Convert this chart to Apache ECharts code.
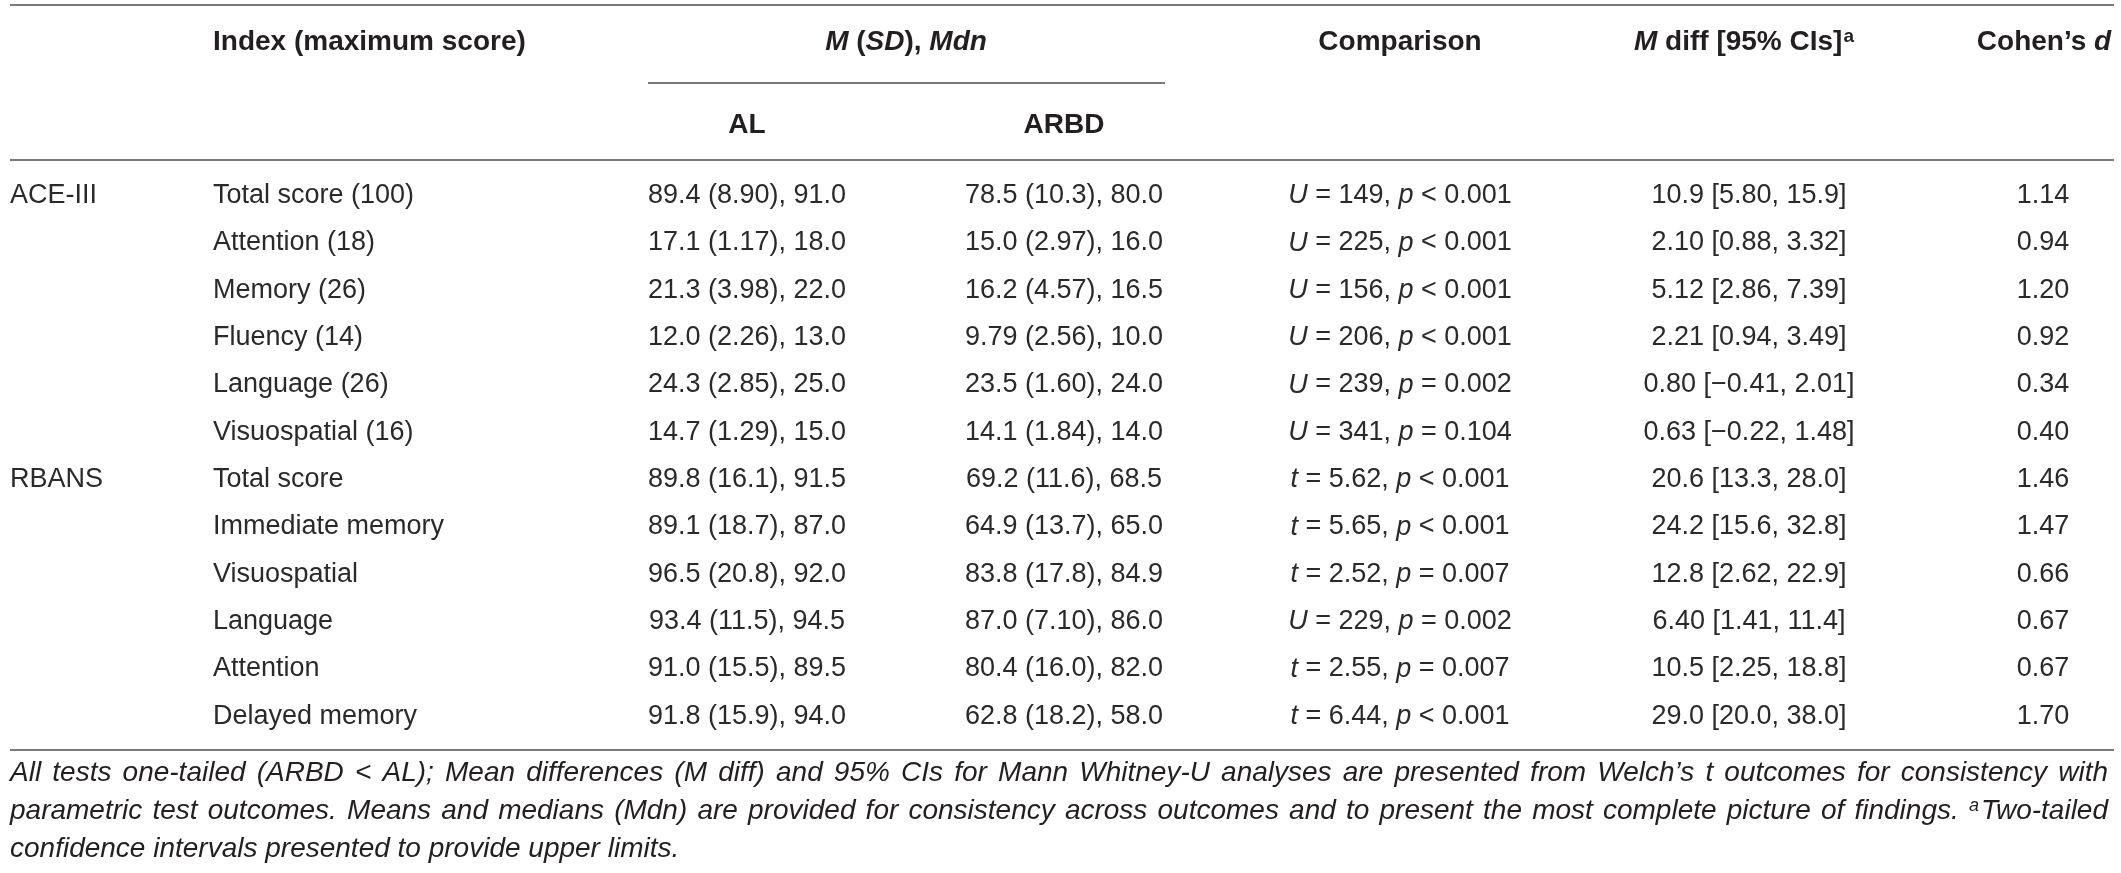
<!DOCTYPE html>
<html>
<head>
<meta charset="utf-8">
<script src="https://cdn.jsdelivr.net/npm/echarts@6/dist/echarts.min.js"></script>
<style>
html, body { margin: 0; padding: 0; background: #fff; }
#main { width: 2121px; height: 873px; }
</style>
</head>
<body>
<div id="main"></div>
<script>
// table values
var groups = ['ACE-III', '', '', '', '', '', 'RBANS', '', '', '', '', ''];
var indexNames = ['Total score (100)', 'Attention (18)', 'Memory (26)', 'Fluency (14)', 'Language (26)', 'Visuospatial (16)',
	'Total score', 'Immediate memory', 'Visuospatial', 'Language', 'Attention', 'Delayed memory'];
var alValues = ['89.4 (8.90), 91.0', '17.1 (1.17), 18.0', '21.3 (3.98), 22.0', '12.0 (2.26), 13.0', '24.3 (2.85), 25.0', '14.7 (1.29), 15.0',
	'89.8 (16.1), 91.5', '89.1 (18.7), 87.0', '96.5 (20.8), 92.0', '93.4 (11.5), 94.5', '91.0 (15.5), 89.5', '91.8 (15.9), 94.0'];
var arbdValues = ['78.5 (10.3), 80.0', '15.0 (2.97), 16.0', '16.2 (4.57), 16.5', '9.79 (2.56), 10.0', '23.5 (1.60), 24.0', '14.1 (1.84), 14.0',
	'69.2 (11.6), 68.5', '64.9 (13.7), 65.0', '83.8 (17.8), 84.9', '87.0 (7.10), 86.0', '80.4 (16.0), 82.0', '62.8 (18.2), 58.0'];
var testStat = ['U', 'U', 'U', 'U', 'U', 'U', 't', 't', 't', 'U', 't', 't'];
var testValue = ['149', '225', '156', '206', '239', '341', '5.62', '5.65', '2.52', '229', '2.55', '6.44'];
var pValue = ['< 0.001', '< 0.001', '< 0.001', '< 0.001', '= 0.002', '= 0.104', '< 0.001', '< 0.001', '= 0.007', '= 0.002', '= 0.007', '< 0.001'];
var meanDiff = ['10.9 [5.80, 15.9]', '2.10 [0.88, 3.32]', '5.12 [2.86, 7.39]', '2.21 [0.94, 3.49]', '0.80 [\u22120.41, 2.01]', '0.63 [\u22120.22, 1.48]',
	'20.6 [13.3, 28.0]', '24.2 [15.6, 32.8]', '12.8 [2.62, 22.9]', '6.40 [1.41, 11.4]', '10.5 [2.25, 18.8]', '29.0 [20.0, 38.0]'];
var cohensD = [1.14, 0.94, 1.20, 0.92, 0.34, 0.40, 1.46, 1.47, 0.66, 0.67, 0.67, 1.70];

var headerTop = ['Index (maximum score)', '{i|M} ({i|SD}), {i|Mdn}', 'Comparison', '{i|M} diff [95% CIs]{sup|a}', 'Cohen\u2019s {i|d}'];
var headerSub = ['AL', 'ARBD'];
var footnote = [
	'All tests one-tailed (ARBD < AL); Mean differences (M diff) and 95% CIs for Mann Whitney-U analyses are presented from Welch\u2019s t outcomes for consistency with',
	'parametric test outcomes. Means and medians (Mdn) are provided for consistency across outcomes and to present the most complete picture of findings. {sup|a}Two-tailed',
	'confidence intervals presented to provide upper limits.'
];
var footJustify = [true, true, false];

// layout
var colAnchor = [10, 213, 747, 1064, 1400, 1749, 2043];
var colAlign = ['left', 'left', 'center', 'center', 'center', 'center', 'center'];
var textColor = '#231f20';
var bodyColor = '#2a2a2a';
var ruleColor = '#7a7a7a';
var font = 'Liberation Sans, Arial, sans-serif';
var footLeft = 10, footWidth = 2098;

var cells = [];
for (var i = 0; i < indexNames.length; i++) {
	if (groups[i]) cells.push({col: 0, row: i, text: groups[i]});
	cells.push({col: 1, row: i, text: indexNames[i]});
	cells.push({col: 2, row: i, text: alValues[i]});
	cells.push({col: 3, row: i, text: arbdValues[i]});
	cells.push({col: 4, row: i, text: '{i|' + testStat[i] + '} = ' + testValue[i] + ', {i|p} ' + pValue[i]});
	cells.push({col: 5, row: i, text: meanDiff[i]});
	cells.push({col: 6, row: i, text: cohensD[i].toFixed(2)});
}

var bodyRich = {
	i: {fontStyle: 'italic', fontSize: 27, fontFamily: font, fill: bodyColor}
};
var headRich = {
	i: {fontStyle: 'italic', fontWeight: 'bold', fontSize: 28, fontFamily: font, fill: textColor},
	sup: {fontWeight: 'bold', fontSize: 19, fontFamily: font, fill: textColor, verticalAlign: 'top', padding: [0, 0, 10, 1]}
};

// spread the words of a footnote line over the full width, like the justified original
var measure = document.createElement('canvas').getContext('2d');
function footLine(txt, justify) {
	var rich = {
		t: {fontStyle: 'italic', fontSize: 28, fontFamily: font, fill: textColor},
		sup: {fontStyle: 'italic', fontSize: 18, fontFamily: font, fill: textColor, verticalAlign: 'top', padding: [0, 2, 10, 0]}
	};
	var words = txt.split(' ');
	var used = 0;
	words.forEach(function (w) {
		var m = w.match(/^\{sup\|(.*?)\}(.*)$/);
		if (m) {
			measure.font = 'italic 18px ' + font;
			used += measure.measureText(m[1]).width + 2;
			w = m[2];
		}
		measure.font = 'italic 28px ' + font;
		used += measure.measureText(w).width;
	});
	measure.font = 'italic 28px ' + font;
	var gap = justify ? (footWidth - used) / (words.length - 1) : measure.measureText(' ').width;
	rich.sp = {width: gap, fontSize: 28, fontFamily: font};
	var out = words.map(function (w) {
		var m = w.match(/^\{sup\|(.*?)\}(.*)$/);
		return m ? '{sup|' + m[1] + '}{t|' + m[2] + '}' : '{t|' + w + '}';
	}).join('{sp| }');
	return {text: out, rich: rich};
}

function rule(x1, x2, y) {
	return {type: 'line', shape: {x1: x1, y1: y, x2: x2, y2: y}, style: {stroke: ruleColor, lineWidth: 2}, silent: true};
}

function headText(txt, x, y, align) {
	return {
		type: 'text', x: x, y: y, silent: true,
		style: {text: txt, align: align, verticalAlign: 'middle', fontSize: 28, fontWeight: 'bold', fontFamily: font, fill: textColor, rich: headRich}
	};
}

function footText(k, y) {
	var line = footLine(footnote[k], footJustify[k]);
	return {
		type: 'text', x: footLeft, y: y, silent: true,
		style: {text: line.text, align: 'left', verticalAlign: 'middle', fontSize: 28, fontStyle: 'italic', fontFamily: font, fill: textColor, rich: line.rich}
	};
}

var myChart = echarts.init(document.getElementById('main'));

var option = {
	backgroundColor: '#fff',
	animation: false,
	grid: {left: 0, right: 0, top: 172, height: 568},
	xAxis: {type: 'value', min: 0, max: 2121, show: false},
	yAxis: {type: 'category', inverse: true, data: indexNames, show: false},
	graphic: [
		rule(10, 2114, 5),
		rule(648, 1165, 83),
		rule(10, 2114, 160),
		rule(10, 2114, 750),
		headText(headerTop[0], 213, 42, 'left'),
		headText(headerTop[1], 906, 42, 'center'),
		headText(headerTop[2], 1400, 42, 'center'),
		headText(headerTop[3], 1744, 42, 'center'),
		headText(headerTop[4], 2044, 42, 'center'),
		headText(headerSub[0], 747, 125, 'center'),
		headText(headerSub[1], 1064, 125, 'center'),
		footText(0, 773),
		footText(1, 811),
		footText(2, 849)
	],
	series: [{
		type: 'custom',
		clip: false,
		encode: {x: 0, y: 1},
		data: cells.map(function (c) { return [colAnchor[c.col], c.row]; }),
		renderItem: function (params, api) {
			var c = cells[params.dataIndex];
			var pt = api.coord([api.value(0), api.value(1)]);
			return {
				type: 'text',
				x: pt[0],
				y: pt[1],
				style: {
					text: c.text,
					align: colAlign[c.col],
					verticalAlign: 'middle',
					fontSize: 27,
					fontFamily: font,
					fill: bodyColor,
					rich: bodyRich
				}
			};
		}
	}]
};

myChart.setOption(option);
</script>
</body>
</html>
